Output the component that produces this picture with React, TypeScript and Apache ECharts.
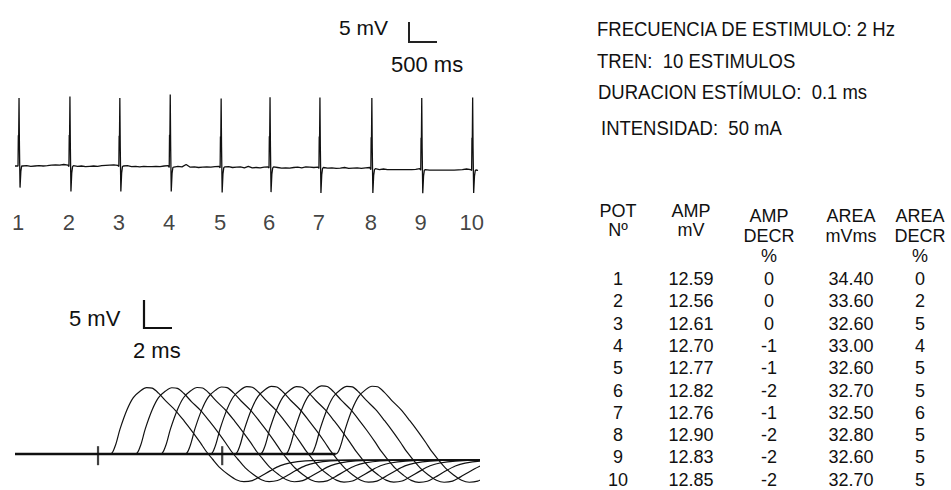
import React, { useEffect, useRef } from "react";
import * as echarts from "echarts";

// ---------- Upper panel: train of 10 responses (2 Hz) ----------
const spikeLabels = ["1", "2", "3", "4", "5", "6", "7", "8", "9", "10"];
const spikeTimesMs = [0, 505, 1000, 1500, 2005, 2490, 2985, 3500, 3995, 4500];
const spikePeakMv = [22.7, 23.4, 22.9, 24.3, 23.1, 23.6, 23.6, 23.9, 24.1, 24.3];
const spikeTroughMv = [7.2, 8.3, 8.3, 8.0, 8.2, 8.0, 8.2, 7.8, 7.7, 7.5];
const baselineLevelMv = [0, -0.2, -0.2, -0.5, -0.6, -0.7, -0.8, -1.2, -1.4, -1.5];
const spikeShapeMs = [0, 3, 6, 10, 14, 20, 28, 36];
const spikeShapeRel = [0, 0.45, 0.35, 1, 0.3, -1, -0.25, 0];
const baselineNoiseMv = [
  [0.0, 0.1, -0.1, 0.0, 0.1, 0.0, 0.1, 0.3, 0.4, 0.3, 0.5, 0.3],
  [0.3, 0.1, 0.2, 0.0, 0.1, 0.2, 0.1, 0.3, 0.4, 0.5, 0.6, 0.4],
  [0.2, 0.3, 0.0, 0.1, -0.1, 0.1, 0.0, 0.0, 0.1, 0.0, 0.2, 0.3],
  [0.1, 0.4, 0.2, 1.0, 0.1, 0.2, 0.0, 0.1, 0.2, 0.1, 0.3, 0.4],
  [0.3, 0.4, 0.1, 0.2, 0.3, 0.0, 0.5, 0.0, 0.1, 0.0, 0.2, 0.3],
  [0.4, 0.2, 0.0, 0.1, 0.0, 0.2, 0.3, 0.1, 0.4, 0.3, 0.2, 0.3],
  [0.3, 0.1, 0.2, 0.0, 0.1, 0.3, 0.0, 0.1, 0.2, 0.0, 0.2, 0.3],
  [0.3, 0.0, 0.2, 0.0, 0.0, 0.0, 0.0, 0.0, 0.0, 0.0, 0.1, 0.3],
  [0.2, 0.0, 0.0, 0.0, 0.0, 0.0, 0.0, 0.0, 0.1, 0.2, 0.4, 0.2],
  [0.2, 0.0, 0.1],
];

// ---------- Lower panel: superimposed (cascaded) CMAPs ----------
const cmapLatencyMs = [6.8, 8.6, 10.4, 12.15, 13.95, 15.7, 17.5, 19.3, 21.1, 22.9];
const templateTimeMs = [0, 0.35, 0.7, 1.2, 1.65, 2.15, 2.6, 3.0, 3.45, 4.0, 4.65, 5.3, 5.85, 6.45, 6.85, 7.3, 7.85, 8.45, 9.0, 9.55, 10.15, 10.7, 11.45, 12.15, 12.85, 13.95, 15.7];
const templateMv = [0, 1.4, 4.5, 8.0, 10.2, 11.4, 12.0, 11.9, 11.0, 9.5, 7.9, 5.9, 4.1, 2.0, 0.5, -0.9, -2.5, -3.75, -4.65, -5.0, -4.8, -4.1, -3.0, -2.1, -1.6, -1.25, -1.1];
const cursorTimesMs = [5.93, 14.8];

// ---------- Table ----------
const potNo = ["1", "2", "3", "4", "5", "6", "7", "8", "9", "10"];
const ampMv = [12.59, 12.56, 12.61, 12.70, 12.77, 12.82, 12.76, 12.90, 12.83, 12.85];
const ampDecrPct = [0, 0, 0, -1, -1, -2, -1, -2, -2, -2];
const areaMvms = [34.40, 33.60, 32.60, 33.00, 32.60, 32.70, 32.50, 32.80, 32.60, 32.70];
const areaDecrPct = [0, 2, 5, 4, 5, 5, 6, 5, 5, 5];
const tableHeaders = [["POT", "Nº"], ["AMP", "mV"], ["AMP", "DECR", "%"], ["AREA", "mVms"], ["AREA", "DECR", "%"]];

const infoLines = [
  "FRECUENCIA DE ESTIMULO: 2 Hz",
  "TREN:  10 ESTIMULOS",
  "DURACION ESTÍMULO:  0.1 ms",
  "INTENSIDAD:  50 mA",
];

const FONT = '"Liberation Sans", Arial, Helvetica, sans-serif';
const INK = "#111";

function txt(text: string, x: number, y: number, size: number, align = "left", scaleY = 1) {
  return {
    type: "text",
    x,
    y,
    scaleY,
    silent: true,
    style: { text, x: 0, y: 0, fontSize: size, fontFamily: FONT, fill: INK, align, verticalAlign: "middle" },
  };
}

function buildTopTrace() {
  const pts: number[][] = [[-30, baselineLevelMv[0]]];
  spikeTimesMs.forEach((t0, i) => {
    const lvl = baselineLevelMv[i];
    spikeShapeMs.forEach((dt, j) => {
      const k = spikeShapeRel[j];
      const v = k >= 0 ? k * spikePeakMv[i] : k * spikeTroughMv[i];
      pts.push([t0 + dt, lvl + v]);
    });
    const noise = baselineNoiseMv[i];
    const start = t0 + 45;
    const end = i < spikeTimesMs.length - 1 ? spikeTimesMs[i + 1] - 10 : 4563;
    noise.forEach((n, j) => pts.push([start + ((end - start) * j) / (noise.length - 1), lvl + n]));
  });
  return pts;
}

function buildCmap(k: number) {
  const lat = cmapLatencyMs[k];
  const r = ampMv[k] / ampMv[0];
  const pts: number[][] = [[0, 0], [lat, 0]];
  templateTimeMs.forEach((dt, j) => pts.push([lat + dt, templateMv[j] * r]));
  pts.push([40, templateMv[templateMv.length - 1] * r]);
  return pts;
}

function buildOption() {
  const series: any[] = [];
  series.push({
    type: "line",
    xAxisIndex: 0,
    yAxisIndex: 0,
    data: buildTopTrace(),
    symbol: "none",
    lineStyle: { color: INK, width: 1.3 },
    silent: true,
  });
  series.push({
    type: "scatter",
    xAxisIndex: 0,
    yAxisIndex: 0,
    symbolSize: 0,
    data: spikeTimesMs.map((t, i) => ({ value: [t, -9.5], name: spikeLabels[i] })),
    label: {
      show: true,
      position: "bottom",
      distance: 17,
      formatter: "{b}",
      fontSize: 22,
      fontFamily: FONT,
      color: INK,
    },
    silent: true,
  });
  series.push({
    type: "line",
    xAxisIndex: 1,
    yAxisIndex: 1,
    data: [[0, 0], [cmapLatencyMs[cmapLatencyMs.length - 1], 0]],
    symbol: "none",
    lineStyle: { color: INK, width: 2.6 },
    silent: true,
  });
  cmapLatencyMs.forEach((_, k) => {
    series.push({
      type: "line",
      xAxisIndex: 1,
      yAxisIndex: 1,
      data: buildCmap(k),
      symbol: "none",
      smooth: 0.3,
      lineStyle: { color: INK, width: 1.2 },
      silent: true,
    });
  });
  series.push({
    type: "scatter",
    xAxisIndex: 1,
    yAxisIndex: 1,
    symbol: "rect",
    symbolSize: [2.2, 19],
    itemStyle: { color: INK },
    data: cursorTimesMs.map((t) => [t, -0.3]),
    silent: true,
  });

  const graphic: any[] = [];
  // scale bars
  graphic.push({ type: "polyline", silent: true, shape: { points: [[409, 22], [409, 42], [437, 42]] }, style: { stroke: "#222", lineWidth: 2, fill: null } });
  graphic.push(txt("5 mV", 388, 27, 21, "right"));
  graphic.push(txt("500 ms", 391, 64, 22, "left"));
  graphic.push({ type: "polyline", silent: true, shape: { points: [[144, 300], [144, 328], [172, 328]] }, style: { stroke: "#111", lineWidth: 2.2, fill: null } });
  graphic.push(txt("5 mV", 69, 318, 22, "left"));
  graphic.push(txt("2 ms", 133, 350, 22, "left"));
  // info text
  const infoX = [597, 597, 598, 601];
  const infoY = [29, 61, 92, 128];
  infoLines.forEach((s, i) => graphic.push(txt(s, infoX[i], infoY[i], 18.5, "left", 1.05)));
  // table
  const colX = [618, 691, 769, 851, 920];
  tableHeaders.forEach((lines, c) => {
    const y0 = c < 2 ? 210.5 : 215.5;
    const step = c < 2 ? 19.5 : 20.2;
    lines.forEach((s, j) => graphic.push(txt(s, colX[c], y0 + j * step, 18, "center")));
  });
  const rowY0 = 279;
  const rowStep = 22.3;
  potNo.forEach((p, i) => {
    const y = rowY0 + i * rowStep;
    graphic.push(txt(p, colX[0], y, 18, "center"));
    graphic.push(txt(ampMv[i].toFixed(2), colX[1], y, 18, "center"));
    graphic.push(txt(String(ampDecrPct[i]), colX[2], y, 18, "center"));
    graphic.push(txt(areaMvms[i].toFixed(2), colX[3], y, 18, "center"));
    graphic.push(txt(String(areaDecrPct[i]), colX[4], y, 18, "center"));
  });

  return {
    animation: false,
    backgroundColor: "#ffffff",
    grid: [
      { left: 15, top: 91, width: 463, height: 105 },
      { left: 15, top: 371, width: 463, height: 120.4 },
    ],
    xAxis: [
      { type: "value", gridIndex: 0, min: -30, max: 4563, show: false },
      { type: "value", gridIndex: 1, min: 0, max: 33.07, show: false },
    ],
    yAxis: [
      { type: "value", gridIndex: 0, min: -10, max: 25, show: false },
      { type: "value", gridIndex: 1, min: -6.5, max: 15, show: false },
    ],
    series,
    graphic,
  };
}

export default function App() {
  const ref = useRef<HTMLDivElement>(null);
  useEffect(() => {
    if (!ref.current) return;
    const chart = echarts.init(ref.current, null, { renderer: "svg" });
    chart.setOption(buildOption() as any);
    return () => chart.dispose();
  }, []);
  return (
    <div
      ref={ref}
      style={{ position: "fixed", left: 0, top: 0, width: 951, height: 490, background: "#fff" }}
    />
  );
}
